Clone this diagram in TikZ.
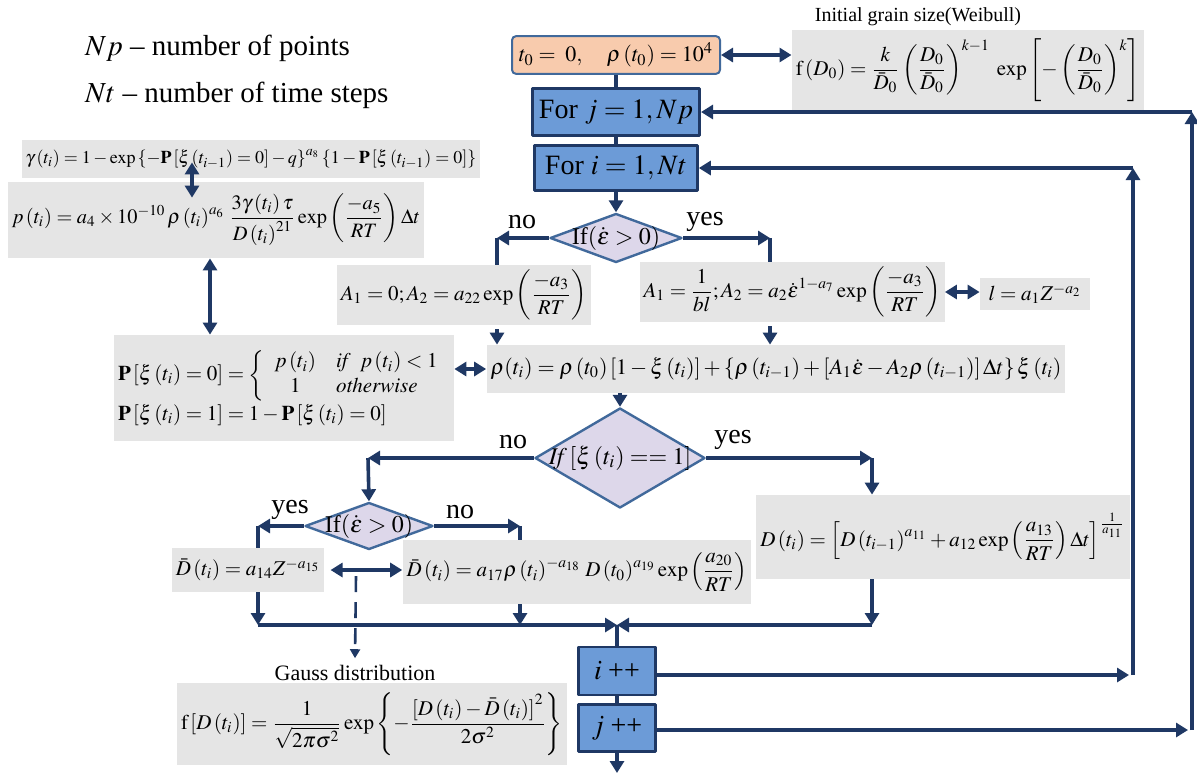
\documentclass[tikz,border=0pt]{standalone}
\usepackage{amsmath}
\usepackage{mathptmx}
\usepackage[no-math]{fontspec}
\setmainfont{Liberation Serif}
\usetikzlibrary{arrows.meta,shapes.geometric}
\definecolor{navy}{RGB}{31,56,100}
\definecolor{loopblue}{RGB}{108,155,215}
\definecolor{initorange}{RGB}{248,203,173}
\definecolor{lavender}{RGB}{221,215,234}
\definecolor{steel}{RGB}{65,105,155}
\definecolor{eqgray}{RGB}{229,229,229}
\begin{document}
\begin{tikzpicture}[x=0.5pt,y=-0.5pt,>={Triangle[width=7pt,length=6pt]},line join=round,
  eqbox/.style={fill=eqgray,inner sep=2pt,font=\fontsize{10.5}{12.5}\selectfont},
  loopbox/.style={draw=navy,line width=1.3pt,fill=loopblue,font=\fontsize{14}{16}\selectfont},
  initbox/.style={draw=steel,line width=1pt,rounded corners=2pt,fill=initorange,font=\fontsize{11}{13}\selectfont},
  ifbox/.style={diamond,draw=steel,line width=1.2pt,fill=lavender,inner sep=0pt},
  flow/.style={->,draw=navy,line width=1.8pt},
  link/.style={draw=navy,line width=1.8pt},
  dbl/.style={<->,draw=navy,line width=1.8pt},
  lab/.style={font=\fontsize{14}{16}\selectfont}]
\useasboundingbox (0,0) rectangle (1197,773);
\node[lab,anchor=west,font=\fontsize{14.5}{16}\selectfont] (np) at (78,48) {$Np$ -- number of points};
\node[lab,anchor=west,font=\fontsize{14.5}{16}\selectfont] (nt) at (78,95) {$Nt$ -- number of time steps};
\node[initbox,minimum width=104,minimum height=15] (init) at (616,55) {$t_0=\;0,\quad\rho\left(t_0\right)=10^4$};
\node[font=\fontsize{10}{12}\selectfont] (weiblab) at (918,17) {Initial grain size(Weibull)};
\node[eqbox,minimum width=162,minimum height=40] (weib) at (968,70) {$\displaystyle \mathrm{f}\left(D_0\right)=\frac{k}{\bar{D}_0}\left(\frac{D_0}{\bar{D}_0}\right)^{k-1}\;\exp\left[-\left(\frac{D_0}{\bar{D}_0}\right)^{k}\right]$};
\node[loopbox,minimum width=81.5,minimum height=23.5] (forj) at (616,112) {For $j=1,Np$};
\node[loopbox,minimum width=81.5,minimum height=22.5] (fori) at (616,168) {For $i=1,Nt$};
\node[eqbox,minimum width=226,minimum height=19,font=\fontsize{9}{11}\selectfont] (gam) at (251,159) {$\gamma\left(t_i\right)=1-\exp\left\{-\mathbf{P}\left[\xi\left(t_{i-1}\right)=0\right]-q\right\}^{a_8}\left\{1-\mathbf{P}\left[\xi\left(t_{i-1}\right)=0\right]\right\}$};
\node[eqbox,minimum width=208,minimum height=38,font=\fontsize{10.2}{12}\selectfont] (pbox) at (216,220) {$\displaystyle p\left(t_i\right)=a_4\times10^{-10}\,\rho\left(t_i\right)^{a_6}\,\frac{3\gamma\left(t_i\right)\tau}{D\left(t_i\right)^{21}}\exp\left(\frac{-a_5}{RT}\right)\Delta t$};
\node[ifbox,minimum width=66,minimum height=24.5,label={[font=\fontsize{12}{14}\selectfont]center:If$\left(\dot{\varepsilon}>0\right)$}] (ifa) at (616,238) {};
\node[lab] (noa) at (522,222) {no};
\node[lab] (yesa) at (705,222) {yes};
\node[eqbox,minimum width=119,minimum height=30] (azero) at (464,295) {$\displaystyle A_1=0;A_2=a_{22}\exp\left(\frac{-a_3}{RT}\right)$};
\node[eqbox,minimum width=142,minimum height=30] (aone) at (792,292) {$\displaystyle A_1=\frac{1}{bl};A_2=a_2\dot{\varepsilon}^{1-a_7}\exp\left(\frac{-a_3}{RT}\right)$};
\node[eqbox,minimum width=55,minimum height=16] (lbox) at (1035,294) {$l=a_1Z^{-a_2}$};
\node[eqbox,minimum width=164,minimum height=53,align=left] (pxi) at (284,388) {$\mathbf{P}\left[\xi\left(t_i\right)=0\right]=\left\{\begin{array}{cl} p\left(t_i\right) & \mathit{if}\;\; p\left(t_i\right)<1\\ 1 & \mathit{otherwise}\end{array}\right.$\\[1pt] $\mathbf{P}\left[\xi\left(t_i\right)=1\right]=1-\mathbf{P}\left[\xi\left(t_i\right)=0\right]$};
\node[eqbox,minimum width=286,minimum height=24,font=\fontsize{11}{13}\selectfont] (rho) at (776,369) {$\rho(t_i)=\rho\left(t_0\right)\left[1-\xi\left(t_i\right)\right]+\left\{\rho\left(t_{i-1}\right)+\left[A_1\dot{\varepsilon}-A_2\rho\left(t_{i-1}\right)\right]\Delta t\right\}\xi\left(t_i\right)$};
\node[ifbox,minimum width=85,minimum height=50,label={[font=\fontsize{12}{14}\selectfont]center:$\mathit{If}\left[\xi\left(t_i\right)==1\right]$}] (ifb) at (620,458) {};
\node[lab] (nob) at (513,442) {no};
\node[lab] (yesb) at (733,440) {yes};
\node[eqbox,minimum width=186,minimum height=42] (dbox) at (943,537) {$\displaystyle D\left(t_i\right)=\left[D\left(t_{i-1}\right)^{a_{11}}+a_{12}\exp\left(\frac{a_{13}}{RT}\right)\Delta t\right]^{\frac{1}{a_{11}}}$};
\node[ifbox,minimum width=64,minimum height=23.5,label={[font=\fontsize{12}{14}\selectfont]center:If$\left(\dot{\varepsilon}>0\right)$}] (ifc) at (369,526) {};
\node[lab] (yesc) at (290,510) {yes};
\node[lab] (noc) at (460,512) {no};
\node[eqbox,minimum width=73,minimum height=22] (dbara) at (248,570) {$\bar{D}\left(t_i\right)=a_{14}Z^{-a_{15}}$};
\node[eqbox,minimum width=172,minimum height=32] (dbarb) at (577,572) {$\displaystyle \bar{D}\left(t_i\right)=a_{17}\rho\left(t_i\right)^{-a_{18}}\,D\left(t_0\right)^{a_{19}}\exp\left(\frac{a_{20}}{RT}\right)$};
\node[font=\fontsize{11}{13}\selectfont] (gausslab) at (355,673) {Gauss distribution};
\node[eqbox,minimum width=187,minimum height=41] (gauss) at (372,724) {$\displaystyle \mathrm{f}\left[D\left(t_i\right)\right]=\frac{1}{\sqrt{2\pi\sigma^2}}\exp\left\{-\frac{\left[D\left(t_i\right)-\bar{D}\left(t_i\right)\right]^2}{2\sigma^2}\right\}$};
\node[loopbox,minimum width=38.5,minimum height=24] (iplus) at (617,671) {$i\;$++};
\node[loopbox,minimum width=38.5,minimum height=23.5] (jplus) at (617,728) {$j\;$++};
\coordinate (ca) at (497,238);
\coordinate (cb) at (770,238);
\coordinate (cc) at (368,458);
\coordinate (cd) at (872,458);
\coordinate (ce) at (258,526);
\coordinate (cf) at (520,526);
\coordinate (cg) at (356,576);
\coordinate (ch) at (258,625);
\coordinate (ci) at (520,625);
\coordinate (cj) at (872,625);
\coordinate (merge) at (617,625);
\coordinate (ra) at (1133,675);
\coordinate (rb) at (1192,730);
\coordinate (bottom) at (617,773);
\draw[link] (init) -- (forj);
\draw[link] (forj) -- (fori);
\draw[flow] (fori) -- (ifa);
\draw[dbl] (init.east) -- (init.east -| weib.west);
\draw[dbl] ([xshift=-29.5pt,yshift=8pt]gam.south) -- ([xshift=-12pt,yshift=-8pt]pbox.north);
\draw[dbl] ([xshift=-3pt]pbox.south) -- ([xshift=-3pt]pbox.south |- pxi.north);
\draw[flow] (ifa.west) -- (ca);
\draw[link] (ca) -- (ca |- azero.north);
\draw[flow] (ifa.east) -- (cb);
\draw[link] (cb) -- (cb |- aone.north);
\draw[dbl] (aone.east) -- (aone.east -| lbox.west);
\draw[flow] ([yshift=-2pt]azero.south -| ca) -- (rho.north -| ca);
\draw[flow] ([yshift=-2pt]aone.south -| cb) -- (rho.north -| cb);
\draw[dbl] (rho.west -| pxi.east) -- (rho.west);
\draw[flow] (rho.south -| ifb.north) -- (ifb.north);
\draw[flow] (ifb.west) -- (cc);
\draw[flow] (cc) -- (ifc.north);
\draw[flow] (ifb.east) -- (cd);
\draw[flow] (cd) -- (cd |- dbox.north);
\draw[flow] (ifc.west) -- (ce);
\draw[link] (ce) -- (ce |- dbara.north);
\draw[flow] (ifc.east) -- (cf);
\draw[link] (cf) -- (cf |- dbarb.north);
\draw[dbl] ([xshift=3pt]dbara.east) -- (dbara.east -| dbarb.west);
\draw[navy,line width=1.3pt,dash pattern=on 8pt off 5pt,-{Triangle[width=5pt,length=4.5pt]}] (cg) -- (gausslab.north);
\draw[flow] (dbara.south -| ch) -- (ch);
\draw[flow] (dbarb.south -| ci) -- (ci);
\draw[flow] (dbox.south -| cj) -- (cj);
\draw[flow] (ch) -- (merge);
\draw[flow] (cj) -- (merge);
\draw[link] (merge) -- (iplus.north);
\draw[link] (iplus) -- (jplus);
\draw[flow] (jplus.south) -- (bottom);
\draw[flow] (iplus.east |- ra) -- ([xshift=-2pt]ra);
\draw[flow] (ra) -- (ra |- fori);
\draw[flow] (ra |- fori) -- (fori.east);
\draw[flow] (jplus.east |- rb) -- ([xshift=-2pt]rb);
\draw[flow] (rb) -- (rb |- forj);
\draw[flow] (rb |- forj) -- (forj.east);
\end{tikzpicture}
\end{document}
